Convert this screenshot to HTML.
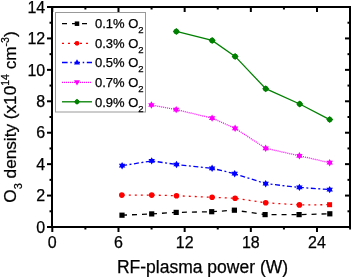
<!DOCTYPE html>
<html><head><meta charset="utf-8"><style>
html,body{margin:0;padding:0;background:#fff;}
body{width:351px;height:277px;overflow:hidden;}
svg{display:block;font-family:"Liberation Sans",sans-serif;will-change:transform;}
text{fill:#000;stroke:#000;stroke-width:0.25px;}
</style></head><body>
<svg width="351" height="277" viewBox="0 0 351 277">
<path d="M52,7 H350 V227 H52 Z" fill="none" stroke="#000" stroke-width="2"/>
<line x1="52.30" y1="227" x2="52.30" y2="232" stroke="#000" stroke-width="2"/>
<line x1="52.30" y1="7" x2="52.30" y2="12" stroke="#000" stroke-width="2"/>
<line x1="85.39" y1="227" x2="85.39" y2="229.5" stroke="#000" stroke-width="2"/>
<line x1="85.39" y1="7" x2="85.39" y2="9.5" stroke="#000" stroke-width="2"/>
<line x1="118.48" y1="227" x2="118.48" y2="232" stroke="#000" stroke-width="2"/>
<line x1="118.48" y1="7" x2="118.48" y2="12" stroke="#000" stroke-width="2"/>
<line x1="151.57" y1="227" x2="151.57" y2="229.5" stroke="#000" stroke-width="2"/>
<line x1="151.57" y1="7" x2="151.57" y2="9.5" stroke="#000" stroke-width="2"/>
<line x1="184.66" y1="227" x2="184.66" y2="232" stroke="#000" stroke-width="2"/>
<line x1="184.66" y1="7" x2="184.66" y2="12" stroke="#000" stroke-width="2"/>
<line x1="217.75" y1="227" x2="217.75" y2="229.5" stroke="#000" stroke-width="2"/>
<line x1="217.75" y1="7" x2="217.75" y2="9.5" stroke="#000" stroke-width="2"/>
<line x1="250.84" y1="227" x2="250.84" y2="232" stroke="#000" stroke-width="2"/>
<line x1="250.84" y1="7" x2="250.84" y2="12" stroke="#000" stroke-width="2"/>
<line x1="283.93" y1="227" x2="283.93" y2="229.5" stroke="#000" stroke-width="2"/>
<line x1="283.93" y1="7" x2="283.93" y2="9.5" stroke="#000" stroke-width="2"/>
<line x1="317.02" y1="227" x2="317.02" y2="232" stroke="#000" stroke-width="2"/>
<line x1="317.02" y1="7" x2="317.02" y2="12" stroke="#000" stroke-width="2"/>
<line x1="350.11" y1="227" x2="350.11" y2="229.5" stroke="#000" stroke-width="2"/>
<line x1="350.11" y1="7" x2="350.11" y2="9.5" stroke="#000" stroke-width="2"/>
<line x1="52" y1="227.00" x2="47" y2="227.00" stroke="#000" stroke-width="2"/>
<line x1="350" y1="227.00" x2="345" y2="227.00" stroke="#000" stroke-width="2"/>
<line x1="52" y1="211.29" x2="49.5" y2="211.29" stroke="#000" stroke-width="2"/>
<line x1="350" y1="211.29" x2="347.5" y2="211.29" stroke="#000" stroke-width="2"/>
<line x1="52" y1="195.57" x2="47" y2="195.57" stroke="#000" stroke-width="2"/>
<line x1="350" y1="195.57" x2="345" y2="195.57" stroke="#000" stroke-width="2"/>
<line x1="52" y1="179.86" x2="49.5" y2="179.86" stroke="#000" stroke-width="2"/>
<line x1="350" y1="179.86" x2="347.5" y2="179.86" stroke="#000" stroke-width="2"/>
<line x1="52" y1="164.14" x2="47" y2="164.14" stroke="#000" stroke-width="2"/>
<line x1="350" y1="164.14" x2="345" y2="164.14" stroke="#000" stroke-width="2"/>
<line x1="52" y1="148.43" x2="49.5" y2="148.43" stroke="#000" stroke-width="2"/>
<line x1="350" y1="148.43" x2="347.5" y2="148.43" stroke="#000" stroke-width="2"/>
<line x1="52" y1="132.72" x2="47" y2="132.72" stroke="#000" stroke-width="2"/>
<line x1="350" y1="132.72" x2="345" y2="132.72" stroke="#000" stroke-width="2"/>
<line x1="52" y1="117.00" x2="49.5" y2="117.00" stroke="#000" stroke-width="2"/>
<line x1="350" y1="117.00" x2="347.5" y2="117.00" stroke="#000" stroke-width="2"/>
<line x1="52" y1="101.29" x2="47" y2="101.29" stroke="#000" stroke-width="2"/>
<line x1="350" y1="101.29" x2="345" y2="101.29" stroke="#000" stroke-width="2"/>
<line x1="52" y1="85.57" x2="49.5" y2="85.57" stroke="#000" stroke-width="2"/>
<line x1="350" y1="85.57" x2="347.5" y2="85.57" stroke="#000" stroke-width="2"/>
<line x1="52" y1="69.86" x2="47" y2="69.86" stroke="#000" stroke-width="2"/>
<line x1="350" y1="69.86" x2="345" y2="69.86" stroke="#000" stroke-width="2"/>
<line x1="52" y1="54.15" x2="49.5" y2="54.15" stroke="#000" stroke-width="2"/>
<line x1="350" y1="54.15" x2="347.5" y2="54.15" stroke="#000" stroke-width="2"/>
<line x1="52" y1="38.43" x2="47" y2="38.43" stroke="#000" stroke-width="2"/>
<line x1="350" y1="38.43" x2="345" y2="38.43" stroke="#000" stroke-width="2"/>
<line x1="52" y1="22.72" x2="49.5" y2="22.72" stroke="#000" stroke-width="2"/>
<line x1="350" y1="22.72" x2="347.5" y2="22.72" stroke="#000" stroke-width="2"/>
<line x1="52" y1="7.00" x2="47" y2="7.00" stroke="#000" stroke-width="2"/>
<line x1="350" y1="7.00" x2="345" y2="7.00" stroke="#000" stroke-width="2"/>
<text x="52.30" y="247.5" font-size="16" text-anchor="middle">0</text>
<text x="118.48" y="247.5" font-size="16" text-anchor="middle">6</text>
<text x="184.66" y="247.5" font-size="16" text-anchor="middle">12</text>
<text x="250.84" y="247.5" font-size="16" text-anchor="middle">18</text>
<text x="317.02" y="247.5" font-size="16" text-anchor="middle">24</text>
<text x="45.2" y="232.70" font-size="16" text-anchor="end">0</text>
<text x="45.2" y="201.27" font-size="16" text-anchor="end">2</text>
<text x="45.2" y="169.84" font-size="16" text-anchor="end">4</text>
<text x="45.2" y="138.42" font-size="16" text-anchor="end">6</text>
<text x="45.2" y="106.99" font-size="16" text-anchor="end">8</text>
<text x="45.2" y="75.56" font-size="16" text-anchor="end">10</text>
<text x="45.2" y="44.13" font-size="16" text-anchor="end">12</text>
<text x="45.2" y="12.70" font-size="16" text-anchor="end">14</text>
<text x="202.5" y="273.4" font-size="17.5" text-anchor="middle">RF-plasma power (W)</text>
<text transform="translate(16.2,117) rotate(-90)" font-size="17.2" text-anchor="middle">O<tspan font-size="11" dy="5.5">3</tspan><tspan dy="-5.5"> density (x10</tspan><tspan font-size="10.5" dy="-7.5">14</tspan><tspan dy="7.5"> cm</tspan><tspan font-size="10.5" dy="-7.5">-3</tspan><tspan dy="7.5">)</tspan></text>
<polyline points="122.0,215.2 151.7,213.9 176.2,212.4 211.7,211.7 234.4,210.2 265.1,214.6 299.1,214.6 329.8,213.8" fill="none" stroke="#000" stroke-width="1.3" stroke-dasharray="5 5"/>
<polyline points="121.8,195.1 151.7,195.1 176.5,195.7 212.1,197.3 235.1,198.2 265.7,202.8 299.4,204.9 329.6,204.7" fill="none" stroke="#f00" stroke-width="1.3" stroke-dasharray="2 4" stroke-dashoffset="-1"/>
<polyline points="122.1,165.7 151.7,160.9 176.5,164.5 212.1,168.3 234.7,173.7 265.7,183.7 299.4,187.4 329.7,189.6" fill="none" stroke="#00f" stroke-width="1.3" stroke-dasharray="5 2.5 2 2.5"/>
<polyline points="151.4,105.0 176.2,109.6 212.1,118.1 235.1,128.3 265.7,148.3 299.4,155.8 329.7,162.7" fill="none" stroke="#f0f" stroke-width="1.3" stroke-dasharray="1 1"/>
<polyline points="176.3,31.4 212.1,40.4 235.1,56.4 265.7,88.7 299.7,104.0 329.7,119.6" fill="none" stroke="#008000" stroke-width="1.3"/>
<rect x="119.40" y="212.60" width="5.2" height="5.2" fill="#000"/>
<rect x="149.10" y="211.30" width="5.2" height="5.2" fill="#000"/>
<rect x="173.60" y="209.80" width="5.2" height="5.2" fill="#000"/>
<rect x="209.10" y="209.10" width="5.2" height="5.2" fill="#000"/>
<rect x="231.80" y="207.60" width="5.2" height="5.2" fill="#000"/>
<rect x="262.50" y="212.00" width="5.2" height="5.2" fill="#000"/>
<rect x="296.50" y="212.00" width="5.2" height="5.2" fill="#000"/>
<rect x="327.20" y="211.20" width="5.2" height="5.2" fill="#000"/>
<circle cx="121.80" cy="195.10" r="2.8" fill="#f00"/>
<circle cx="151.70" cy="195.10" r="2.8" fill="#f00"/>
<circle cx="176.50" cy="195.70" r="2.8" fill="#f00"/>
<circle cx="212.10" cy="197.30" r="2.8" fill="#f00"/>
<circle cx="235.10" cy="198.20" r="2.8" fill="#f00"/>
<circle cx="265.70" cy="202.80" r="2.8" fill="#f00"/>
<circle cx="299.40" cy="204.90" r="2.8" fill="#f00"/>
<rect x="327.10" y="202.20" width="5" height="5" fill="#f00"/>
<path d="M122.10,162.00 L125.30,167.55 L118.90,167.55Z M122.10,169.40 L118.90,163.85 L125.30,163.85Z" fill="#00f"/>
<path d="M151.70,157.20 L154.90,162.75 L148.50,162.75Z M151.70,164.60 L148.50,159.05 L154.90,159.05Z" fill="#00f"/>
<path d="M176.50,160.80 L179.70,166.35 L173.30,166.35Z M176.50,168.20 L173.30,162.65 L179.70,162.65Z" fill="#00f"/>
<path d="M212.10,164.60 L215.30,170.15 L208.90,170.15Z M212.10,172.00 L208.90,166.45 L215.30,166.45Z" fill="#00f"/>
<path d="M234.70,170.00 L237.90,175.55 L231.50,175.55Z M234.70,177.40 L231.50,171.85 L237.90,171.85Z" fill="#00f"/>
<path d="M265.70,180.00 L268.90,185.55 L262.50,185.55Z M265.70,187.40 L262.50,181.85 L268.90,181.85Z" fill="#00f"/>
<path d="M299.40,183.70 L302.60,189.25 L296.20,189.25Z M299.40,191.10 L296.20,185.55 L302.60,185.55Z" fill="#00f"/>
<path d="M329.70,185.90 L332.90,191.45 L326.50,191.45Z M329.70,193.30 L326.50,187.75 L332.90,187.75Z" fill="#00f"/>
<path d="M151.40,101.30 L154.60,106.85 L148.20,106.85Z M151.40,108.70 L148.20,103.15 L154.60,103.15Z" fill="#f0f"/>
<path d="M176.20,105.90 L179.40,111.45 L173.00,111.45Z M176.20,113.30 L173.00,107.75 L179.40,107.75Z" fill="#f0f"/>
<path d="M212.10,114.40 L215.30,119.95 L208.90,119.95Z M212.10,121.80 L208.90,116.25 L215.30,116.25Z" fill="#f0f"/>
<path d="M235.10,124.60 L238.30,130.15 L231.90,130.15Z M235.10,132.00 L231.90,126.45 L238.30,126.45Z" fill="#f0f"/>
<path d="M265.70,144.60 L268.90,150.15 L262.50,150.15Z M265.70,152.00 L262.50,146.45 L268.90,146.45Z" fill="#f0f"/>
<path d="M299.40,152.10 L302.60,157.65 L296.20,157.65Z M299.40,159.50 L296.20,153.95 L302.60,153.95Z" fill="#f0f"/>
<path d="M329.70,159.00 L332.90,164.55 L326.50,164.55Z M329.70,166.40 L326.50,160.85 L332.90,160.85Z" fill="#f0f"/>
<path d="M176.30,27.90 L179.80,31.40 L176.30,34.90 L172.80,31.40Z" fill="#008000"/><circle cx="176.30" cy="31.40" r="2.66" fill="#008000"/>
<path d="M212.10,36.90 L215.60,40.40 L212.10,43.90 L208.60,40.40Z" fill="#008000"/><circle cx="212.10" cy="40.40" r="2.66" fill="#008000"/>
<path d="M235.10,52.90 L238.60,56.40 L235.10,59.90 L231.60,56.40Z" fill="#008000"/><circle cx="235.10" cy="56.40" r="2.66" fill="#008000"/>
<path d="M265.70,85.20 L269.20,88.70 L265.70,92.20 L262.20,88.70Z" fill="#008000"/><circle cx="265.70" cy="88.70" r="2.66" fill="#008000"/>
<path d="M299.70,100.50 L303.20,104.00 L299.70,107.50 L296.20,104.00Z" fill="#008000"/><circle cx="299.70" cy="104.00" r="2.66" fill="#008000"/>
<path d="M329.70,116.10 L333.20,119.60 L329.70,123.10 L326.20,119.60Z" fill="#008000"/><circle cx="329.70" cy="119.60" r="2.66" fill="#008000"/>
<rect x="55.5" y="12.5" width="90" height="99.5" fill="#fff" stroke="#999" stroke-width="1"/>
<line x1="62" y1="23.7" x2="92" y2="23.7" stroke="#000" stroke-width="1.3" stroke-dasharray="5 5"/>
<rect x="74.75" y="21.45" width="4.5" height="4.5" fill="#000"/>
<text x="95" y="28.40" font-size="13">0.1% O<tspan font-size="9.5" dy="5">2</tspan></text>
<line x1="62" y1="43.3" x2="92" y2="43.3" stroke="#f00" stroke-width="1.3" stroke-dasharray="2 4"/>
<circle cx="77.00" cy="43.30" r="2.4" fill="#f00"/>
<text x="95" y="48.00" font-size="13">0.3% O<tspan font-size="9.5" dy="5">2</tspan></text>
<line x1="62" y1="62.5" x2="92" y2="62.5" stroke="#00f" stroke-width="1.3" stroke-dasharray="5.6 2.7 1.5 2.6"/>
<path d="M77.00,59.28 L80.00,64.47 L74.00,64.47Z" fill="#00f"/>
<text x="95" y="67.20" font-size="13">0.5% O<tspan font-size="9.5" dy="5">2</tspan></text>
<line x1="62" y1="82.3" x2="92" y2="82.3" stroke="#f0f" stroke-width="1.3" stroke-dasharray="1 1"/>
<path d="M77.00,85.52 L80.00,80.33 L74.00,80.33Z" fill="#f0f"/>
<text x="95" y="87.00" font-size="13">0.7% O<tspan font-size="9.5" dy="5">2</tspan></text>
<line x1="62" y1="101.8" x2="92" y2="101.8" stroke="#008000" stroke-width="1.3"/>
<path d="M77.00,98.80 L80.00,101.80 L77.00,104.80 L74.00,101.80Z" fill="#008000"/><circle cx="77.00" cy="101.80" r="2.2800000000000002" fill="#008000"/>
<text x="95" y="106.50" font-size="13">0.9% O<tspan font-size="9.5" dy="5">2</tspan></text>
</svg>
</body></html>
